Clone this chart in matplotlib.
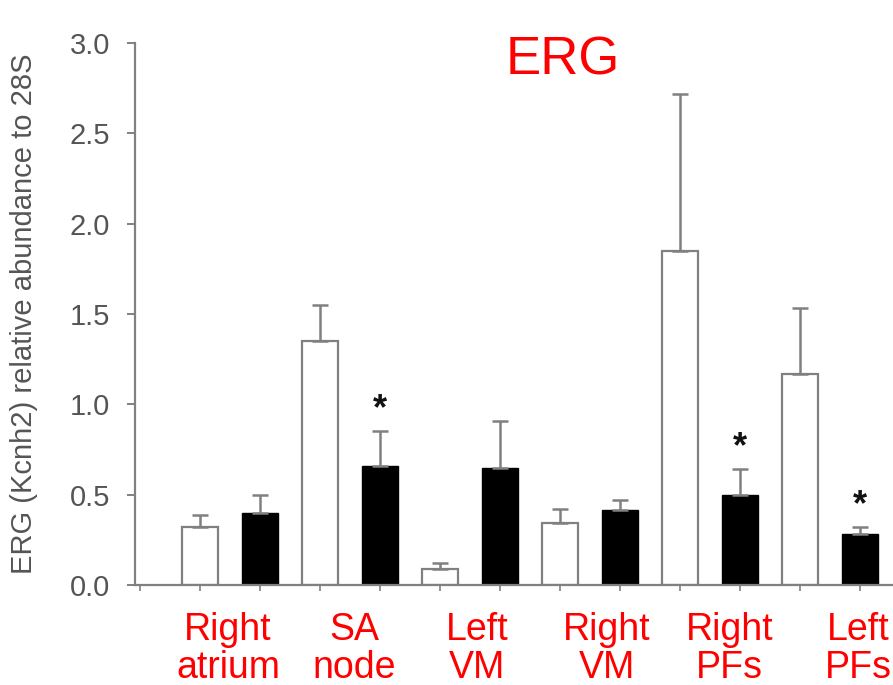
import matplotlib
matplotlib.use("Agg")
import matplotlib.pyplot as plt
import matplotlib.transforms as mtransforms
import numpy as np

plt.rcParams['font.family'] = ['Liberation Sans', 'DejaVu Sans']

# data (white = control, black = treated), per region
regions = ["Right\natrium", "SA\nnode", "Left\nVM", "Right\nVM", "Right\nPFs", "Left\nPFs"]
white_vals = [0.32, 1.35, 0.09, 0.345, 1.85, 1.17]
white_err = [0.07, 0.20, 0.03, 0.075, 0.87, 0.365]
black_vals = [0.40, 0.66, 0.65, 0.415, 0.50, 0.28]
black_err = [0.10, 0.19, 0.26, 0.055, 0.14, 0.04]
star = [False, True, False, False, True, True]

grey = "#808080"
n = len(regions)
xw = np.arange(n) * 2 + 1
xb = xw + 1

fig = plt.figure(figsize=(8.93, 6.85), dpi=100)
ax = fig.add_axes([0.151, 0.146, 0.849, 0.791])

ekw = dict(ecolor=grey, elinewidth=1.8, capthick=1.8)
ax.bar(xw, white_vals, width=0.6, color="white", edgecolor=grey, linewidth=1.6,
       yerr=[np.zeros(n), white_err], capsize=6, error_kw=ekw, zorder=2)
ax.bar(xb, black_vals, width=0.6, color="black", edgecolor="black", linewidth=1,
       yerr=[np.zeros(n), black_err], capsize=6, error_kw=ekw, zorder=2)

# significance stars
for i in range(n):
    if star[i]:
        ax.text(xb[i], black_vals[i] + black_err[i] + 0.12, "*", ha="center", va="center",
                fontsize=26, fontweight="bold", color="#111111")

ax.set_xlim(-0.083, 12.55)
ax.set_ylim(0, 3.0)
yt = np.arange(0, 3.01, 0.5)
ax.set_yticks(yt)
ax.set_yticklabels([f"{v:.1f}" for v in yt])
ax.set_xticks(np.arange(0, 13))
ax.set_xticklabels([])

for s in ["top", "right"]:
    ax.spines[s].set_visible(False)
for s in ["left", "bottom"]:
    ax.spines[s].set_color(grey)
    ax.spines[s].set_linewidth(1.6)
ax.tick_params(axis="y", direction="out", length=6, width=1.4, color=grey,
               labelsize=21, labelcolor="#555555", pad=12)
ax.tick_params(axis="x", direction="out", length=4, width=1.2, color=grey)

ax.set_ylabel("ERG (Kcnh2) relative abundance to 28S", fontsize=21,
              color="#555555")
ax.yaxis.set_label_coords(-0.128, 0.5)

# red region labels below the axis
label_x = [1.47, 3.58, 5.62, 7.78, 9.83, 11.97]
trans = mtransforms.blended_transform_factory(ax.transData, ax.transAxes)
for lx, name in zip(label_x, regions):
    ax.text(lx, -0.05, name, ha="center", va="top", fontsize=27, color="red",
            linespacing=1.08, transform=trans, clip_on=False)

fig.text(0.63, 0.912, "ERG", ha="center", va="center", fontsize=38, color="red")

fig.savefig("out.png", dpi=100)
